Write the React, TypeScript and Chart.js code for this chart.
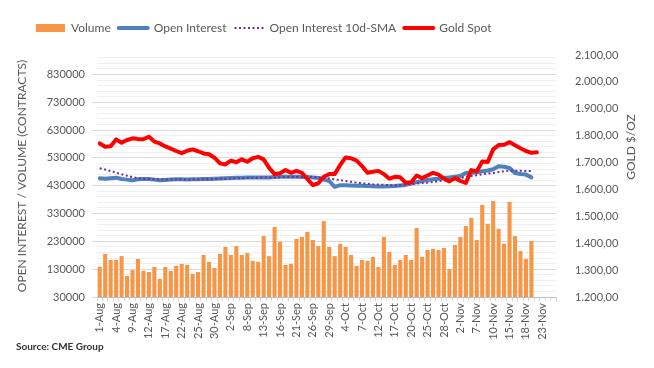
import React, { useEffect, useRef } from 'react';
import { Chart, registerables } from 'chart.js';

Chart.register(...registerables);

const categories = [
  '1-Aug','2-Aug','3-Aug','4-Aug','5-Aug','8-Aug','9-Aug','10-Aug','11-Aug','12-Aug',
  '15-Aug','16-Aug','17-Aug','18-Aug','19-Aug','22-Aug','23-Aug','24-Aug','25-Aug','26-Aug',
  '29-Aug','30-Aug','31-Aug',
  '1-Sep','2-Sep','6-Sep','7-Sep','8-Sep','9-Sep','12-Sep','13-Sep','14-Sep','15-Sep','16-Sep',
  '19-Sep','20-Sep','21-Sep','22-Sep','23-Sep','26-Sep','27-Sep','28-Sep','29-Sep','30-Sep',
  '3-Oct','4-Oct','5-Oct','6-Oct','7-Oct','10-Oct','11-Oct','12-Oct','13-Oct','14-Oct',
  '17-Oct','18-Oct','19-Oct','20-Oct','21-Oct','24-Oct','25-Oct','26-Oct','27-Oct','28-Oct','31-Oct',
  '1-Nov','2-Nov','3-Nov','4-Nov','7-Nov','8-Nov','9-Nov','10-Nov','11-Nov','14-Nov',
  '15-Nov','16-Nov','17-Nov','18-Nov','21-Nov','22-Nov','23-Nov','24-Nov','25-Nov',
];

const volume = [
  139000,185000,163000,163000,177000,106000,127000,167000,124000,120000,
  138000,95000,138000,124000,142000,149000,145000,113000,120000,181000,
  156000,134000,185000,210000,181000,213000,181000,188000,160000,156000,
  249000,177000,282000,228000,145000,149000,239000,246000,264000,235000,
  213000,303000,210000,177000,221000,210000,181000,142000,163000,160000,
  174000,138000,246000,192000,145000,163000,181000,163000,278000,174000,
  199000,203000,199000,206000,131000,217000,246000,285000,314000,235000,
  361000,293000,375000,275000,221000,372000,249000,195000,167000,231000,
];

const openInterest = [
  457000,455000,457000,459000,454000,452000,450000,453000,454000,454000,
  452000,450000,451000,452000,453000,453000,452000,453000,453000,454000,
  454000,455000,456000,457000,458000,459000,459000,460000,460000,460000,
  460000,460000,461000,462000,462000,462000,462000,461000,461000,460000,
  458000,452000,447000,426000,432000,432000,431000,430000,430000,429000,
  428000,427000,427000,428000,429000,431000,433000,438000,443000,447000,
  451000,453000,455000,458000,460000,462000,465000,476000,477000,478000,
  482000,485000,489000,500000,498000,494000,476000,472000,470000,460000,
];

const oiSma = [
  493000,488000,483000,477000,471000,466000,461000,457000,455000,454000,
  453000,452000,452000,452000,452000,452000,452000,452000,452000,453000,
  453000,454000,455000,455000,456000,457000,457000,458000,459000,459000,
  460000,460000,460000,461000,461000,461000,461000,461000,461000,461000,
  460000,459000,456000,453000,450000,447000,444000,441000,439000,437000,
  435000,434000,433000,432000,432000,432000,434000,436000,438000,440000,
  441000,444000,446000,449000,451000,454000,458000,462000,465000,468000,
  471000,474000,476000,479000,482000,484000,484000,484000,483000,483000,
];

const goldSpot = [
  1771,1759,1761,1786,1774,1784,1790,1788,1787,1796,
  1778,1771,1760,1752,1743,1735,1744,1749,1742,1734,
  1731,1718,1697,1693,1707,1701,1712,1703,1716,1721,
  1712,1680,1657,1660,1672,1662,1669,1662,1639,1616,
  1623,1647,1657,1657,1691,1719,1716,1707,1687,1662,
  1666,1669,1657,1640,1647,1645,1625,1627,1652,1642,
  1652,1662,1655,1640,1630,1642,1632,1624,1672,1667,
  1704,1702,1749,1765,1766,1776,1764,1753,1743,1736,
  1738,
];

const leftTickLabels = [30000, 130000, 230000, 330000, 430000, 530000, 630000, 730000, 830000];
const rightTickLabels = [1200, 1300, 1400, 1500, 1600, 1700, 1800, 1900, 2000, 2100];
const LEFT_MIN = 30000;
const LEFT_MAX = 900000;
const MINOR_STEP = 20000;

const ORANGE = '#F79646';
const BLUE = '#4F81BD';
const PURPLE = '#7030A0';
const RED = '#FF0000';
const TEXT = '#595959';

const pad = (arr: number[]) => categories.map((_, i) => (i < arr.length ? arr[i] : null));

const fmtGold = (v: number) => {
  const th = Math.floor(v / 1000);
  const rest = String(Math.round(v % 1000)).padStart(3, '0');
  return `${th}.${rest},00`;
};

const minorTicks: number[] = [];
for (let v = LEFT_MIN; v < LEFT_MAX; v += MINOR_STEP) minorTicks.push(v);

const isMajor = (v: number) => leftTickLabels.includes(v);

const helperPlugin = {
  id: 'helperPlugin',
  beforeLayout(chart: any) {
    const lg = chart.legend;
    if (lg && !lg.__fixed) {
      const orig = lg.fit.bind(lg);
      lg.fit = function () {
        orig();
        this.height = 55;
      };
      lg.__fixed = true;
    }
  },
  afterLayout(chart: any) {
    const lg = chart.legend;
    if (lg) {
      lg.left += 20;
      lg.right += 20;
      lg.top += 14;
      lg.bottom += 14;
    }
  },
  afterDraw(chart: any) {
    const ctx = chart.ctx;
    ctx.save();
    ctx.translate(631, 147);
    ctx.rotate(-Math.PI / 2);
    ctx.textAlign = 'center';
    ctx.textBaseline = 'middle';
    ctx.font = "12px Lato, 'Open Sans', sans-serif";
    ctx.fillStyle = TEXT;
    ctx.fillText('GOLD $/OZ', 0, 0);
    ctx.restore();
  },
};

export default function App() {
  const ref = useRef<HTMLCanvasElement>(null);

  useEffect(() => {
    const canvas = ref.current;
    if (!canvas) return;
    Chart.defaults.font.family = "Lato, 'Open Sans', sans-serif";
    const chart = new Chart(canvas, {
      type: 'bar',
      data: {
        labels: categories,
        datasets: [
          {
            type: 'bar',
            label: 'Volume',
            data: pad(volume),
            backgroundColor: ORANGE,
            yAxisID: 'y',
            order: 4,
            barPercentage: 0.75,
            categoryPercentage: 1,
          },
          {
            type: 'line',
            label: 'Open Interest',
            data: pad(openInterest),
            borderColor: BLUE,
            backgroundColor: BLUE,
            borderWidth: 4,
            pointRadius: 0,
            borderJoinStyle: 'round',
            borderCapStyle: 'round',
            yAxisID: 'y',
            order: 3,
          },
          {
            type: 'line',
            label: 'Open Interest 10d-SMA',
            data: pad(oiSma),
            borderColor: PURPLE,
            backgroundColor: PURPLE,
            borderWidth: 2,
            borderDash: [2, 2.5],
            pointRadius: 0,
            yAxisID: 'y',
            order: 2,
          },
          {
            type: 'line',
            label: 'Gold Spot',
            data: pad(goldSpot),
            borderColor: RED,
            backgroundColor: RED,
            borderWidth: 4,
            pointRadius: 0,
            borderJoinStyle: 'round',
            borderCapStyle: 'round',
            yAxisID: 'y1',
            order: 1,
          },
        ] as any,
      },
      options: {
        responsive: false,
        animation: false,
        devicePixelRatio: 1,
        layout: { padding: { left: 8, right: 12, top: 0, bottom: 0 } },
        plugins: {
          tooltip: { enabled: false },
          legend: {
            position: 'top',
            align: 'start',
            labels: {
              usePointStyle: true,
              pointStyleWidth: 29,
              boxWidth: 29,
              boxHeight: 8,
              padding: 8,
              color: TEXT,
              font: { size: 12 },
              generateLabels: () => [
                { text: 'Volume', fillStyle: ORANGE, strokeStyle: ORANGE, lineWidth: 0, pointStyle: 'rect', datasetIndex: 0, hidden: false, fontColor: TEXT },
                { text: 'Open Interest', fillStyle: BLUE, strokeStyle: BLUE, lineWidth: 4, lineCap: 'round', pointStyle: 'line', datasetIndex: 1, hidden: false, fontColor: TEXT },
                { text: 'Open Interest 10d-SMA', fillStyle: PURPLE, strokeStyle: PURPLE, lineWidth: 2, lineDash: [2, 2.5], pointStyle: 'line', datasetIndex: 2, hidden: false, fontColor: TEXT },
                { text: 'Gold Spot', fillStyle: RED, strokeStyle: RED, lineWidth: 4, lineCap: 'round', pointStyle: 'line', datasetIndex: 3, hidden: false, fontColor: TEXT },
              ] as any,
            },
          },
        },
        scales: {
          x: {
            offset: true,
            grid: { display: true, drawOnChartArea: false, drawTicks: true, tickLength: 4, color: '#D9D9D9', offset: true },
            border: { display: true, color: '#BFBFBF' },
            ticks: {
              autoSkip: false,
              maxRotation: 90,
              minRotation: 90,
              padding: 2,
              color: TEXT,
              font: { size: 11 },
              callback: (_v: any, i: number) => (i % 3 === 0 ? categories[i] : ''),
            },
            afterFit: (s: any) => { s.height = 71; },
          },
          y: {
            position: 'left',
            min: LEFT_MIN,
            max: LEFT_MAX,
            afterBuildTicks: (s: any) => { s.ticks = minorTicks.map((v) => ({ value: v })); },
            ticks: {
              autoSkip: false,
              padding: 7,
              color: TEXT,
              font: { size: 11 },
              callback: (v: any) => (isMajor(Number(v)) ? String(v) : ''),
            },
            grid: {
              color: (c: any) => (c.tick && isMajor(c.tick.value) ? '#D9D9D9' : '#EFEFEF'),
              tickColor: (c: any) => (c.tick && isMajor(c.tick.value) ? '#D9D9D9' : 'rgba(0,0,0,0)'),
              tickLength: 5,
            },
            border: { display: false },
            title: {
              display: true,
              text: 'OPEN INTEREST / VOLUME (CONTRACTS)',
              color: TEXT,
              font: { size: 12 },
              padding: { top: 7, bottom: 0 },
            },
            afterFit: (s: any) => { s.width = 89; },
          },
          y1: {
            position: 'right',
            min: rightTickLabels[0],
            max: rightTickLabels[rightTickLabels.length - 1],
            afterBuildTicks: (s: any) => { s.ticks = rightTickLabels.map((v) => ({ value: v })); },
            ticks: {
              autoSkip: false,
              padding: 11,
              color: TEXT,
              font: { size: 11 },
              callback: (v: any) => fmtGold(Number(v)),
            },
            grid: { display: false },
            border: { display: false },
            afterFit: (s: any) => { s.width = 86; },
          },
        },
      } as any,
      plugins: [helperPlugin as any],
    });
    return () => chart.destroy();
  }, []);

  return (
    <div style={{ position: 'fixed', left: 0, top: 0, width: 654, height: 368, background: '#fff' }}>
      <canvas ref={ref} width={654} height={368} style={{ display: 'block', width: 654, height: 368 }} />
      <div
        style={{
          position: 'absolute',
          left: 16,
          top: 340,
          font: "bold 10px Lato, 'Open Sans', sans-serif",
          color: '#333333',
          whiteSpace: 'nowrap',
        }}
      >
        Source: CME Group
      </div>
    </div>
  );
}
